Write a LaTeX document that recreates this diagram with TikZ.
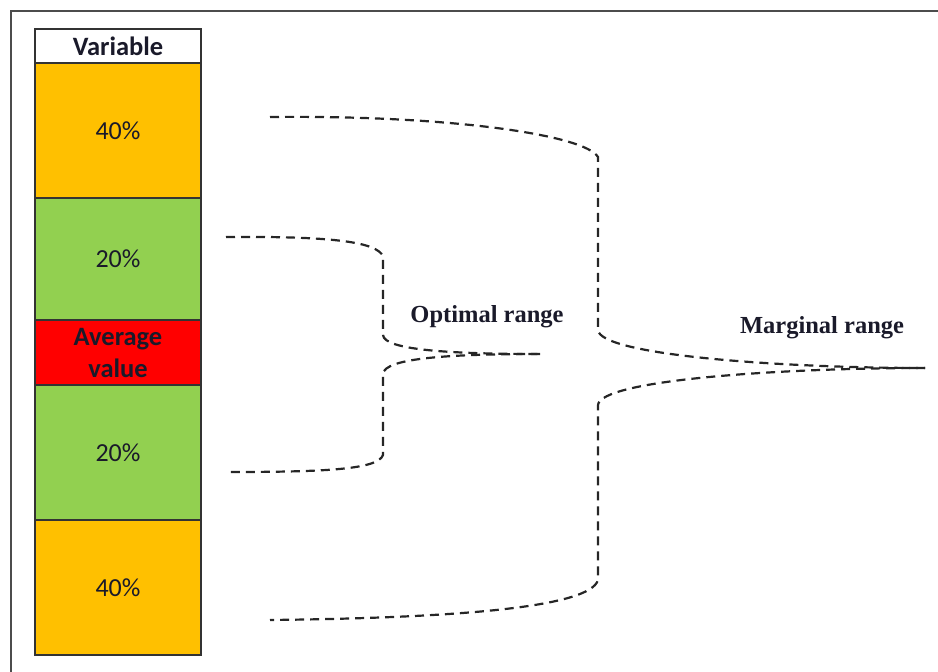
\documentclass[tikz,border=0pt]{standalone}
\usepackage{fontspec}
\setmainfont{Carlito}
\newfontfamily\serifb{Liberation Serif}
\definecolor{orng}{HTML}{FFC000}
\definecolor{grn}{HTML}{92D050}
\definecolor{rd}{HTML}{FF0000}
\definecolor{ink}{HTML}{1A1A2A}
\begin{document}
\begin{tikzpicture}[x=1pt,y=-1pt,
  cell/.style={draw=black!80, line width=1.2pt, minimum width=166pt, inner sep=0pt, align=center, text=ink, font=\fontsize{26}{30}\selectfont},
  brace/.style={dash pattern=on 9pt off 6pt, line width=2.2pt, black!85},
  lbl/.style={font=\serifb\bfseries\fontsize{24.5}{28}\selectfont, inner sep=0pt, text=ink}]
\useasboundingbox (0,0) rectangle (938,672);
\draw[line width=1.8pt, black!70] (11,690) -- (11,11) -- (950,11);
\node[cell, fill=white, minimum height=34pt, font=\bfseries\fontsize{26.5}{30}\selectfont] (hdr) at (118,46) {Variable};
\node[cell, fill=orng, minimum height=135pt] (o1) at (118,130.5) {40\%};
\node[cell, fill=grn, minimum height=122pt] (g1) at (118,259) {20\%};
\node[cell, fill=rd, minimum height=65pt, font=\bfseries\fontsize{26.5}{32}\selectfont] (avg) at (118,353) {Average\\value};
\node[cell, fill=grn, minimum height=135pt] (g2) at (118,452.5) {20\%};
\node[cell, fill=orng, minimum height=135pt] (o2) at (118,587.5) {40\%};
% optimal brace
\coordinate (a1) at (226,237);
\coordinate (a2) at (226,472);
\coordinate (at) at (540,354);
\draw[brace] (a1) .. controls (340,236) and (376,243) .. (383,256) -- (383,335)
  .. controls (384,350) and (450,354) .. (at);
\draw[brace] (at) .. controls (450,354) and (384,358) .. (383,374) -- (383,455)
  .. controls (378,470) and (320,472) .. (a2);
% marginal brace
\coordinate (b1) at (270,117);
\coordinate (b2) at (270,620);
\coordinate (bt) at (925,368);
\draw[brace] (b1) .. controls (450,115) and (585,135) .. (598,157) -- (598,330)
  .. controls (600,355) and (780,368) .. (bt);
\draw[brace] (bt) .. controls (780,368) and (600,380) .. (598,405) -- (598,580)
  .. controls (590,608) and (450,618) .. (b2);
\node[lbl] (opt) at (487,317) {Optimal range};
\node[lbl] (mar) at (822,328) {Marginal range};
\end{tikzpicture}
\end{document}
